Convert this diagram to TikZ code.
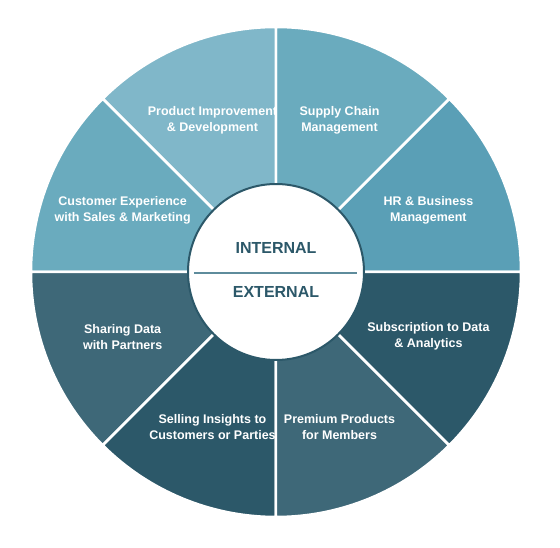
\documentclass[tikz,border=0pt]{standalone}
\definecolor{wheelpale}{HTML}{80B7C9}
\definecolor{wheellight}{HTML}{6AABBE}
\definecolor{wheelmid}{HTML}{5A9FB6}
\definecolor{wheelslate}{HTML}{3E6878}
\definecolor{wheeldeep}{HTML}{2C5869}
\definecolor{wheelrule}{HTML}{5E8C9C}
\usepackage{fontspec}
\setmainfont{Liberation Sans}
\usepackage{tikz}

\begin{document}
\begin{tikzpicture}[x=1pt, y=1pt, font=\bfseries\fontsize{12.5}{16}\selectfont,
  seglabel/.style={text=white, align=center, inner sep=0pt, yshift=-1.5pt},
  hublabel/.style={text=wheeldeep, yshift=-1pt, font=\bfseries\fontsize{16}{19}\selectfont}]
  \useasboundingbox[fill=white] (-276,-276) rectangle (284,272);
  \coordinate (hub) at (0,0);
  % sectors, counter-clockwise from the right
  \foreach \a/\c/\n in {0/wheelmid/hr, 45/wheellight/supply, 90/wheelpale/product, 135/wheellight/customer,
                        180/wheelslate/sharing, 225/wheeldeep/selling, 270/wheelslate/premium, 315/wheeldeep/subscription}
    \filldraw[fill=\c, draw=white, line width=2.5pt] (hub) -- ++(\a:245) arc[start angle=\a, end angle=\a+45, radius=245] -- cycle;
  \node[seglabel] (hr) at (22.5:165) {HR \& Business\\Management};
  \node[seglabel] (supply) at (67.5:166) {Supply Chain\\Management};
  \node[seglabel] (product) at (112.5:166) {Product Improvement\\\& Development};
  \node[seglabel] (customer) at (157.5:166) {Customer Experience\\with Sales \& Marketing};
  \node[seglabel] (sharing) at (202.5:166) {Sharing Data\\with Partners};
  \node[seglabel] (selling) at (247.5:166) {Selling Insights to\\Customers or Parties};
  \node[seglabel] (premium) at (292.5:166) {Premium Products\\for Members};
  \node[seglabel] (subscription) at (337.5:165) {Subscription to Data\\\& Analytics};
  % hub
  \node[circle, draw=wheeldeep, fill=white, line width=2pt, minimum size=176pt, inner sep=0pt] (core) at (hub) {};
  \coordinate (ruleL) at (-82,-1);
  \coordinate (ruleR) at (81,-1);
  \draw[wheelrule, line width=1.2pt] (ruleL) -- (ruleR);
  \node[hublabel] (internal) at (0,25) {INTERNAL};
  \node[hublabel] (external) at (0,-19) {EXTERNAL};
\end{tikzpicture}
\end{document}
